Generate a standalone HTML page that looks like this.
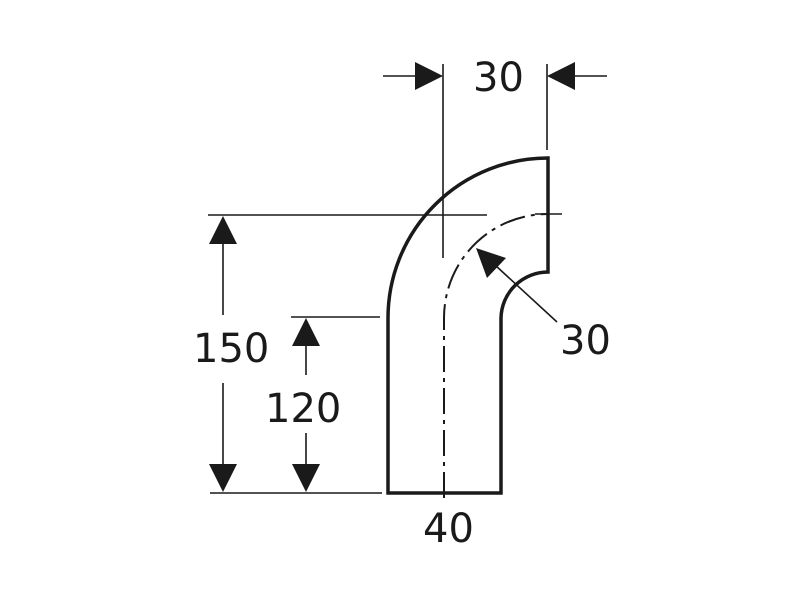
<!DOCTYPE html>
<html><head><style>body{margin:0;background:#fff}svg{display:block}text{font-family:"DejaVu Sans","Liberation Sans",sans-serif;font-size:40px;fill:#1a1a1a}</style></head>
<body><svg width="800" height="600" viewBox="0 0 800 600">
<g stroke="#1a1a1a" fill="none">
<path d="M388,493 L388,318 A160,160 0 0 1 548,158 L548,272 A47,47 0 0 0 501,318 L501,493 Z" stroke-width="3.5" stroke-linejoin="miter"/>
<path d="M444,498 L444,318 A104,104 0 0 1 548,214" stroke-width="2" stroke-dasharray="26,6,4,6"/>
<g stroke-width="1.6">
<line x1="443" y1="64" x2="443" y2="258"/>
<line x1="547" y1="64" x2="547" y2="150"/>
<line x1="383" y1="76" x2="420" y2="76"/>
<line x1="570" y1="76" x2="607" y2="76"/>
<line x1="208" y1="215" x2="487" y2="215"/>
<line x1="535" y1="214" x2="562" y2="214"/>
<line x1="291" y1="317" x2="380" y2="317"/>
<line x1="210" y1="493" x2="382" y2="493"/>
<line x1="223" y1="240" x2="223" y2="315"/>
<line x1="223" y1="383" x2="223" y2="466"/>
<line x1="306" y1="343" x2="306" y2="375"/>
<line x1="306" y1="433" x2="306" y2="466"/>
<line x1="495" y1="265" x2="557" y2="322"/>
</g></g>
<g fill="#1a1a1a">
<polygon points="443,76 415,62 415,90"/>
<polygon points="547,76 575,62 575,90"/>
<polygon points="223,216 209,244 237,244"/>
<polygon points="223,492 209,464 237,464"/>
<polygon points="306,318 292,346 320,346"/>
<polygon points="306,492 292,464 320,464"/>
<polygon points="476,248 506,258 487,278"/>
</g>
<text x="473" y="91">30</text>
<text x="193" y="362">150</text>
<text x="265" y="422">120</text>
<text x="560" y="354">30</text>
<text x="423" y="542">40</text>
</svg></body></html>
